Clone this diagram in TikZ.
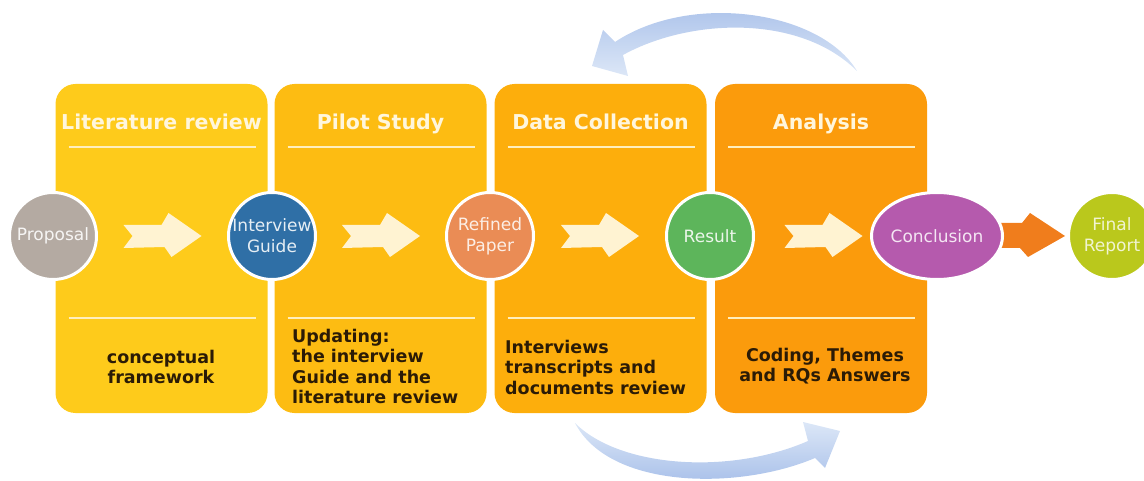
\documentclass[tikz,border=0pt]{standalone}
\usepackage{fontspec}
\setmainfont{DejaVu Sans}
\usetikzlibrary{calc,shapes.geometric}

% stage colours
\definecolor{boxA}{HTML}{FECB1B}
\definecolor{boxB}{HTML}{FDBC12}
\definecolor{boxC}{HTML}{FDAE0C}
\definecolor{boxD}{HTML}{FB9B0C}
\definecolor{cream}{HTML}{FFF3D2}
\definecolor{titleink}{HTML}{FFF6DC}
\definecolor{rulecol}{HTML}{FFEFBE}
\definecolor{ink}{HTML}{2B1B06}
% milestone colours
\definecolor{cProp}{HTML}{B4AAA2}
\definecolor{cGuide}{HTML}{2F6FA6}
\definecolor{cPaper}{HTML}{EA8C55}
\definecolor{cResult}{HTML}{5DB55B}
\definecolor{cConcl}{HTML}{B55AAD}
\definecolor{cFinal}{HTML}{BAC81C}
\definecolor{cArrow}{HTML}{F07D1C}
\definecolor{loopA}{HTML}{A3BCE8}
\definecolor{loopB}{HTML}{DCE7F7}

\pgfdeclarelayer{back}
\pgfsetlayers{back,main}

\begin{document}
\begin{tikzpicture}[x=1pt,y=-1pt,
  stage/.style={rectangle,rounded corners=20pt,minimum width=212pt,minimum height=329pt,
                inner sep=0pt,outer sep=0pt},
  stagetitle/.style={anchor=base,text=titleink,font=\bfseries\fontsize{20.5}{24}\selectfont},
  body/.style={inner sep=0pt,text=ink,font=\bfseries\fontsize{17.5}{20.5}\selectfont},
  divider/.style={draw=rulecol,line width=1.6pt},
  disc/.style={circle,minimum size=87pt,inner sep=0pt,draw=white,line width=3pt,
               align=center,font=\fontsize{17}{21}\selectfont},
  chevron/.pic={\fill[cream] (-39,-11) -- (-1,-11) -- (6,-23) -- (39,0) -- (9,21)
                 -- (2,11) -- (-39,12) -- (-30,0) -- cycle;},
]
\useasboundingbox (0,0) rectangle (1144,481);

% stage panels
\node[stage,fill=boxA] (lit)   at (161.5,248.5) {};
\node[stage,fill=boxB] (pilot) at (380.5,248.5) {};
\node[stage,fill=boxC] (data)  at (600.5,248.5) {};
\node[stage,fill=boxD] (anal)  at (821,248.5)   {};

% dividers under the titles and above the outcomes
\foreach \s in {lit,pilot,data,anal}{
  \draw[divider] ($(\s.north west)+(13,63)$) -- ($(\s.north east)+(-12,63)$);
  \draw[divider] ($(\s.north west)+(13,234)$) -- ($(\s.north east)+(-12,234)$);
}

% stage titles
\node[stagetitle] (litT)   at (161.5,130) {Literature review};
\node[stagetitle] (pilotT) at (380.5,130) {Pilot Study};
\node[stagetitle] (dataT)  at (600.5,130) {Data Collection};
\node[stagetitle] (analT)  at (821,130)   {Analysis};

% stage outcomes
\node[body,anchor=north,align=center] (litO) at (161,350) {conceptual\\framework};
\node[body,anchor=north west,align=left] (pilotO) at (292,329)
  {Updating:\\the interview\\Guide and the\\literature review};
\node[body,anchor=north west,align=left] (dataO) at (505,340)
  {Interviews\\transcripts and\\documents review};
\node[body,anchor=north,align=center] (analO) at (825,348)
  {Coding, Themes\\and RQs Answers};

% milestones
\node[disc,fill=cProp,text=white!88!cProp]   (prop)   at (53,236)  {Proposal};
\node[disc,fill=cGuide,text=white!88!cGuide] (guide)  at (272,236) {Interview\\Guide};
\node[disc,fill=cPaper,text=white!85!cPaper] (paper)  at (490,236) {Refined\\Paper};
\node[disc,fill=cResult,text=white!88!cResult] (result) at (710,236) {Result};
\node[ellipse,minimum width=110pt,minimum height=87pt,inner sep=0pt,draw=white,line width=3pt,
      fill=cConcl,text=white!85!cConcl,font=\fontsize{17}{21}\selectfont] (concl) at (937,236) {Conclusion};
\node[disc,fill=cFinal,text=white!80!cFinal] (final) at (1112,236) {Final\\Report};

% progress arrows between milestones
\pic at ($(prop)!0.5!(guide)$) {chevron};
\pic at ($(guide)!0.5!(paper)$) {chevron};
\pic at ($(paper)!0.5!(result)$) {chevron};
\pic at ($(result)!0.5!(concl)$) {chevron};

% final hand-over arrow
\begin{pgfonlayer}{back}
\fill[cArrow] ($(concl.east)+(-12,-13)$) -- ($(final.west)+(-45,-13)$)
  -- ($(final.west)+(-37,-23)$) -- ($(final.west)+(-2,0)$)
  -- ($(final.west)+(-39,21)$) -- ($(final.west)+(-47,12)$)
  -- ($(concl.east)+(-12,12)$) -- cycle;
\end{pgfonlayer}

% iteration loops
\shade[top color=loopA,bottom color=loopB]
  (857,71) .. controls (820,10) and (690,-8) .. (615,42)
  -- (603,30) -- (592,66) -- (628,76) -- (623,55)
  .. controls (690,18) and (800,14) .. (857,71) -- cycle;
\shade[top color=loopB,bottom color=loopA]
  (575,423) .. controls (610,490) and (740,490) .. (815,458)
  -- (825,468) -- (840,431) -- (803,422) -- (808,441)
  .. controls (730,475) and (620,468) .. (575,423) -- cycle;
\end{tikzpicture}
\end{document}
